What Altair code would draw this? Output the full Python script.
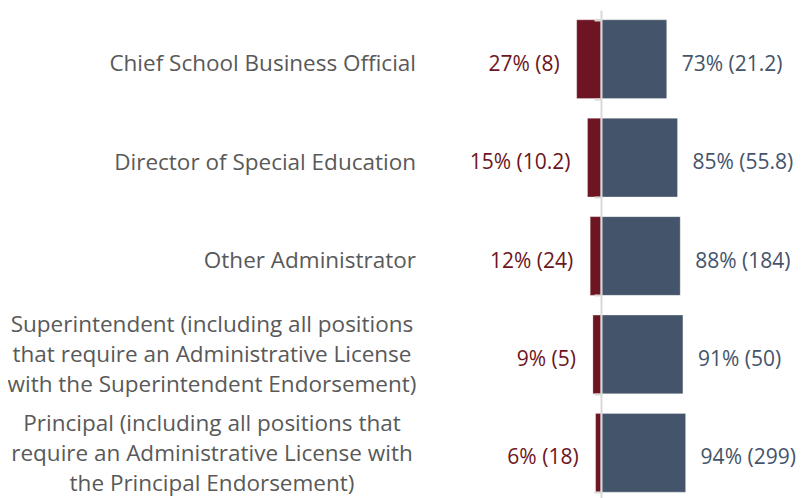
import altair as alt
import pandas as pd

categories = [
    "Chief School Business Official",
    "Director of Special Education",
    "Other Administrator",
    "Superintendent (including all positions\nthat require an Administrative License\nwith the Superintendent Endorsement)",
    "Principal (including all positions that\nrequire an Administrative License with\nthe Principal Endorsement)",
]
red_pct = [27, 15, 12, 9, 6]
red_n = ["8", "10.2", "24", "5", "18"]
blue_pct = [73, 85, 88, 91, 94]
blue_n = ["21.2", "55.8", "184", "50", "299"]

RED = "#6d1522"
BLUE = "#44546a"
GRAY_TXT = "#595959"
AXIS = "#d9d9d9"
FONT = "Open Sans"
FS = 22.5
FS_VAL = 21

df = pd.DataFrame({
    "cat": categories,
    "red_neg": [-v for v in red_pct],
    "blue": blue_pct,
    "zero": [0] * len(categories),
    "red_label": [f"{p}% ({n})" for p, n in zip(red_pct, red_n)],
    "blue_label": [f"{p}% ({n})" for p, n in zip(blue_pct, blue_n)],
    "multi": ["\n" in c for c in categories],
})

y = alt.Y(
    "cat:N",
    sort=categories,
    title=None,
    scale=alt.Scale(range=[0, 492], paddingInner=0.2, paddingOuter=0.1),
    axis=alt.Axis(
        labels=False, grid=False, ticks=True, tickBand="extent",
        tickSize=7, tickWidth=2, tickColor=AXIS,
        domainColor=AXIS, domainWidth=2, zindex=1,
    ),
)
xscale = alt.Scale(domain=[0, 223.3], nice=False, zero=False)

base = alt.Chart(df)

red_bar = base.mark_bar(color=RED, stroke="#ffffff", strokeWidth=0.6, strokeOpacity=0.5).encode(
    x=alt.X("red_neg:Q", scale=xscale, axis=None), x2="zero:Q", y=y
)
blue_bar = base.mark_bar(color=BLUE, stroke="#ffffff", strokeWidth=0.6, strokeOpacity=0.5).encode(
    x=alt.X("blue:Q", scale=xscale, axis=None), x2="zero:Q", y=y
)
red_txt = base.mark_text(align="right", baseline="middle", dx=-17, dy=5.5, font=FONT, fontSize=FS_VAL, color=RED).encode(
    x=alt.X("red_neg:Q", scale=xscale, axis=None), y=y, text="red_label:N"
)
blue_txt = base.mark_text(align="left", baseline="middle", dx=15, dy=5.5, font=FONT, fontSize=FS_VAL, color=BLUE).encode(
    x=alt.X("blue:Q", scale=xscale, axis=None), y=y, text="blue_label:N"
)
cat_single = base.transform_filter("!datum.multi").mark_text(
    align="right", baseline="middle", dy=5, font=FONT, fontSize=FS, color=GRAY_TXT
).encode(x=alt.value(-185), y=y, text="cat:N")
cat_multi = base.transform_filter("datum.multi").mark_text(
    align="center", baseline="middle", font=FONT, fontSize=FS, color=GRAY_TXT,
    lineBreak="\n", lineHeight=30, dy=-29,
).encode(x=alt.value(-389), y=y, text="cat:N")

chart = alt.layer(red_bar, blue_bar, red_txt, blue_txt, cat_single, cat_multi).properties(
    width=201, height=488,
    autosize=alt.AutoSizeParams(type="none"),
    padding={"left": 593, "top": 2, "right": 0, "bottom": 0},
).configure_view(stroke=None)

chart.save("out.html", embed_options={"renderer": "svg", "actions": False})
